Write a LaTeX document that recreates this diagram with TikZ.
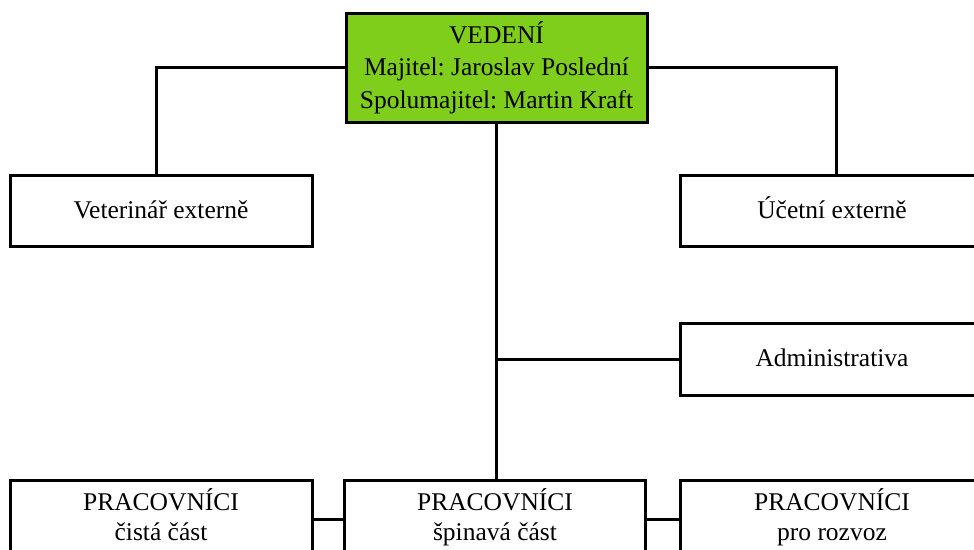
\documentclass[tikz,border=0pt]{standalone}
\usepackage{fontspec}
\setmainfont{Liberation Serif}
\frenchspacing
\definecolor{vedeni}{RGB}{127,206,28}
\newcommand{\topstrut}[1]{\rule{0pt}{#1}}
\begin{document}
\begin{tikzpicture}[x=1pt,y=-1pt,
  box/.style={draw=black,line width=3pt,fill=white,minimum height=71pt,minimum width=302pt,inner sep=0pt,align=center,font=\fontsize{25.5}{32.5}\selectfont\frenchspacing},
  low/.style={minimum height=72pt,font=\fontsize{25.5}{30}\selectfont},
  link/.style={draw=black,line width=3pt}]
\useasboundingbox (0,0) rectangle (974,549);
\clip (0,0) rectangle (974,549);
\node[box,fill=vedeni,minimum width=301pt,minimum height=109pt] (top) at (496.5,67.5) {VEDENÍ\\Majitel: Jaroslav Poslední\\Spolumajitel: Martin Kraft};
\node[box] (vet) at (161,210.5) {\topstrut{26pt}\strut Veterinář externě};
\node[box,minimum width=304pt] (uct) at (832,210.5) {\topstrut{26pt}\strut Účetní externě};
\node[box,minimum width=304pt,minimum height=72pt] (adm) at (832,359) {\topstrut{25pt}\strut Administrativa};
\node[box,low] (p1) at (161,516) {\topstrut{27pt}\strut PRACOVNÍCI\\\strut čistá část};
\node[box,low,minimum width=301pt] (p2) at (495,516) {\topstrut{27pt}\strut PRACOVNÍCI\\\strut špinavá část};
\node[box,low,minimum width=304pt] (p3) at (832,516) {\topstrut{27pt}\strut PRACOVNÍCI\\\strut pro rozvoz};
\draw[link] (top.west) -| ([xshift=-5pt]vet.north);
\draw[link] (top.east) -| ([xshift=4pt]uct.north);
\draw[link] (top.south) -- (top.south |- p2.north);
\draw[link] (adm.west) -- (adm.west -| top.south);
\draw[link] ([yshift=-3pt]p1.east) -- ([yshift=-3pt]p2.west);
\draw[link] ([yshift=-3pt]p2.east) -- ([yshift=-3pt]p3.west);
\end{tikzpicture}
\end{document}
